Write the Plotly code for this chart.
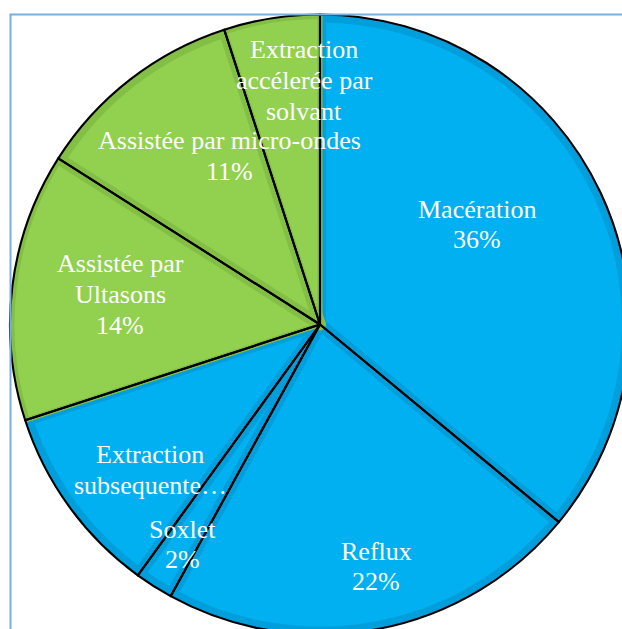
import plotly.graph_objects as go

# ---- data ----
labels = ["Macération", "Reflux", "Soxlet", "Extraction subsequente…",
          "Assistée par Ultasons", "Assistée par micro-ondes",
          "Extraction accélerée par solvant"]
values = [36, 22, 2, 10, 14, 11, 5]
label_lines = [["Macération"], ["Reflux"], ["Soxlet"], ["Extraction", "subsequente…"],
               ["Assistée par", "Ultasons"], ["Assistée par micro-ondes"],
               ["Extraction", "accélerée par", "solvant"]]
show_pct = [True, True, True, False, True, True, False]

# ---- styles / layout ----
BLUE, BLUE_D = "#00B0F0", "#009FDB"
GREEN, GREEN_D = "#92D050", "#84BF45"
fill_colors = [BLUE, BLUE, BLUE, BLUE, GREEN, GREEN, GREEN]
band_colors = [BLUE_D, BLUE_D, BLUE_D, BLUE_D, GREEN_D, GREEN_D, GREEN_D]
# stroke width of each slice's inner band (narrow where a green slice meets a blue one)
band_widths = [12, 12, 12, 12, 5, 12, 5]
label_pos = [(477, 209), (376, 551), (182, 529), (150, 455),
             (120, 264), (229, 141), (304, 50)]   # first-line centre, px
LINE_H = 30.5
W, H = 640, 650
CX, CY, R = 320, 324.5, 310
HALF_BAND, OUTER_BAND = 6, 8


def dom(r):
    return dict(x=[(CX - r) / W, (CX + r) / W],
                y=[1 - (CY + r) / H, 1 - (CY - r) / H])


common = dict(labels=labels, values=values, sort=False, direction="clockwise",
              rotation=0, textinfo="none", hoverinfo="label+percent",
              showlegend=False)

fig = go.Figure()
# darker shade underneath (inner band of every slice)
fig.add_trace(go.Pie(**common, domain=dom(R),
                     marker=dict(colors=band_colors, line=dict(width=0))))
# main fill; its stroke gives the band along the radii
rb = R - OUTER_BAND + HALF_BAND
fig.add_trace(go.Pie(**common, domain=dom(rb),
                     marker=dict(colors=fill_colors,
                                 line=dict(color=band_colors, width=band_widths))))
# white ring hiding stroke overflow outside the pie
fig.add_trace(go.Pie(values=[1], labels=[""], sort=False, textinfo="none",
                     hoverinfo="skip", showlegend=False,
                     domain=dom(R + 8), hole=R / (R + 8),
                     marker=dict(colors=["white"], line=dict(width=0))))
# black outlines
fig.add_trace(go.Pie(**common, domain=dom(R),
                     marker=dict(colors=["rgba(0,0,0,0)"] * len(values),
                                 line=dict(color="black", width=2.1))))

annotations = []
for lines, pct, v, (x, y) in zip(label_lines, show_pct, values, label_pos):
    txt = list(lines) + ([f"{v}%"] if pct else [])
    for i, t in enumerate(txt):
        annotations.append(dict(
            text=t, x=x / W, y=1 - (y + i * LINE_H) / H, xref="paper", yref="paper",
            xanchor="center", yanchor="middle", showarrow=False,
            font=dict(family="Liberation Serif, Times New Roman, serif",
                      size=26, color="white")))

fig.update_layout(
    width=W, height=H, margin=dict(l=0, r=0, t=0, b=0),
    paper_bgcolor="white", plot_bgcolor="white",
    annotations=annotations,
    shapes=[dict(type="rect", xref="paper", yref="paper",
                 x0=10.5 / W, x1=1.2, y0=-0.2, y1=1 - 14.5 / H,
                 line=dict(color="#79AEE0", width=2), layer="above")],
)

fig.write_html("out.html", config={"displayModeBar": False},
               post_script="document.body.style.margin='0';"
                           "document.body.style.overflow='hidden';")
